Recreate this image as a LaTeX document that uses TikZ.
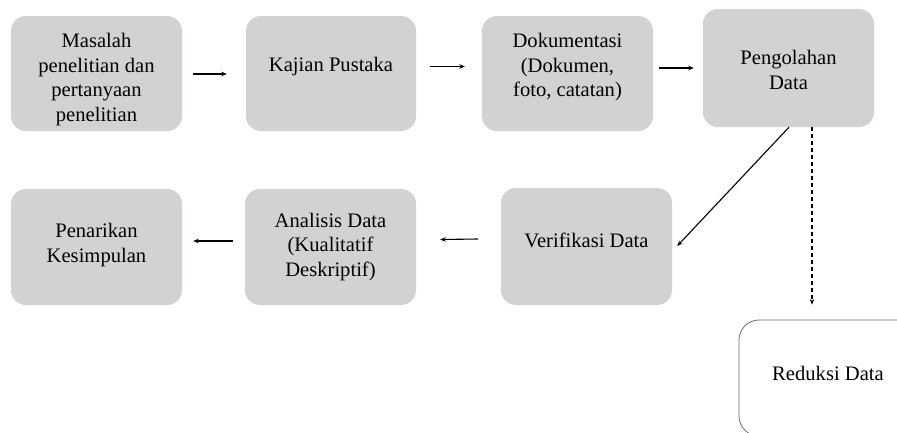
\documentclass[tikz,border=0pt]{standalone}
\usepackage{fontspec}
\setmainfont{Liberation Serif}
\usetikzlibrary{arrows.meta}
\definecolor{boxgray}{RGB}{211,209,210}
\definecolor{edgegray}{RGB}{110,110,110}
\begin{document}
\begin{tikzpicture}[x=1pt,y=-1pt,
  stepbox/.style={draw=none,fill=boxgray,rounded corners=15pt,minimum width=171pt,inner sep=0pt},
  lbl/.style={inner sep=0pt,align=center,font=\fontsize{20.6}{24.5}\selectfont},
  arr/.style={line width=1.1pt,-{Stealth[length=5.5pt,width=4.5pt]}},
  darr/.style={line width=1.1pt,dash pattern=on 4pt off 3pt,-{Stealth[length=5.5pt,width=4.5pt]}}]
\useasboundingbox (0,0) rectangle (897,432);
\clip (0,0) rectangle (897,432);
% row 1
\node[stepbox,minimum height=115pt] (b1) at (96.5,73.5) {};
\node[stepbox,minimum height=115pt,minimum width=170pt] (b2) at (331,73.5) {};
\node[stepbox,minimum height=115pt] (b3) at (567.5,73.5) {};
\node[stepbox,minimum height=118pt] (b4) at (788.5,68) {};
% row 2
\node[stepbox,minimum height=116pt] (b5) at (96.5,247) {};
\node[stepbox,minimum height=116pt] (b6) at (330.5,247) {};
\node[stepbox,minimum height=117pt] (b7) at (586.5,246.5) {};
\node[draw=edgegray,line width=0.8pt,fill=white,rounded corners=20pt,minimum width=178pt,minimum height=116pt,inner sep=0pt] (b8) at (828,378) {};
% texts
\node[lbl] (t1) at (96.5,79.5) {Masalah\\penelitian dan\\pertanyaan\\penelitian};
\node[lbl] (t2) at (331,67) {Kajian Pustaka};
\node[lbl] (t3) at (567.5,67.5) {Dokumentasi\\(Dokumen,\\foto, catatan)};
\node[lbl] (t4) at (788.5,70) {Pengolahan\\Data};
\node[lbl] (t5) at (96.5,245) {Penarikan\\Kesimpulan};
\node[lbl] (t6) at (330.5,247) {Analisis Data\\(Kualitatif\\Deskriptif)};
\node[lbl] (t7) at (586.5,240) {Verifikasi Data};
\node[lbl] (t8) at (828,373) {Reduksi Data};
% connectors
\draw[arr] ([xshift=11pt,yshift=-0.5pt]b1.east) -- ([xshift=-19pt,yshift=-0.5pt]b2.west);
\draw[arr] ([xshift=14pt,yshift=7pt]b2.east) -- ([xshift=-17pt,yshift=7pt]b3.west);
\draw[arr] ([xshift=6pt,yshift=5.5pt]b3.east) -- ([xshift=-9pt]b4.west);
\draw[arr] ([xshift=-23pt,yshift=7.5pt]b7.west) -- ([xshift=24pt,yshift=7.5pt]b6.east);
\draw[arr] ([xshift=-12pt,yshift=6pt]b6.west) -- ([xshift=11pt,yshift=6pt]b5.east);
\draw[arr] ([xshift=0.5pt]b4.south) -- ([xshift=5pt,yshift=0.5pt]b7.east);
\draw[darr] ([xshift=23.5pt]b4.south) -- ([xshift=-16pt,yshift=15pt]b8.north);
\end{tikzpicture}
\end{document}
